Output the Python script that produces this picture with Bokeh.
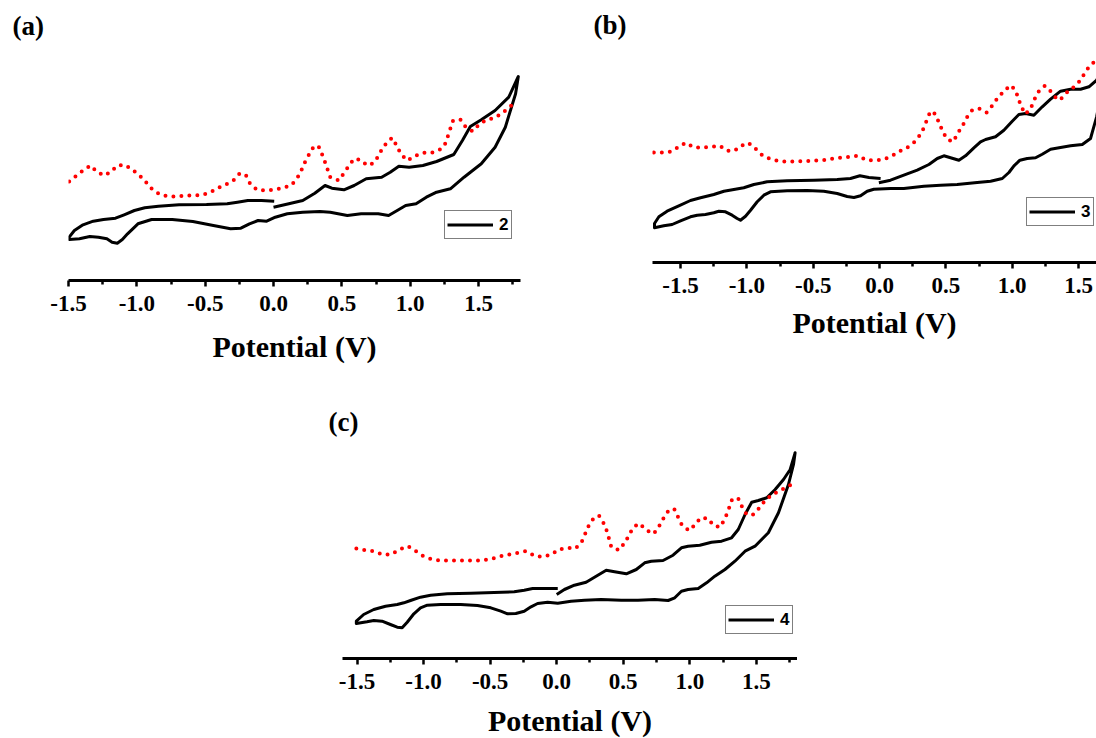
from bokeh.plotting import figure
from bokeh.layouts import column, row
from bokeh.models import (FixedTicker, Legend, LegendItem, Range1d,
                          CustomJSTickFormatter)
from bokeh.embed import file_html
from bokeh.resources import INLINE

# ---------------- data (potential in V, current in arbitrary units) ----------------
tick_values = [-1.5, -1.0, -0.5, 0.0, 0.5, 1.0, 1.5]
tick_labels = ["-1.5", "-1.0", "-0.5", "0.0", "0.5", "1.0", "1.5"]
minor_values = [-1.75, -1.25, -0.75, -0.25, 0.25, 0.75, 1.25, 1.75]
axis_title = "Potential (V)"
panel_tags = ["(a)", "(b)", "(c)"]
series_names = ["2", "3", "4"]

# (a) compound 2 : cyclic voltammogram
a_cv_v = [0.000, 0.088, 0.214, 0.302, 0.377, 0.427, 0.515, 0.590, 0.678, 0.791,
          0.854, 0.917, 0.992, 1.093, 1.193, 1.319, 1.382, 1.440, 1.520, 1.621,
          1.721, 1.791, 1.771, 1.696, 1.621, 1.520, 1.394, 1.294, 1.193, 1.118,
          1.043, 0.967, 0.905, 0.842, 0.766, 0.641, 0.540, 0.415, 0.339, 0.214,
          0.101, 0.013, -0.050, -0.113, -0.176, -0.239, -0.314, -0.440, -0.590, -0.741,
          -0.892, -0.992, -1.068, -1.106, -1.143, -1.181, -1.219, -1.281, -1.344, -1.420,
          -1.495, -1.495, -1.457, -1.394, -1.319, -1.244, -1.156, -1.093, -1.018, -0.942,
          -0.842, -0.691, -0.490, -0.339, -0.264, -0.188, -0.088, 0.005]
a_cv_i = [7.33, 7.60, 8.00, 8.73, 9.50, 9.23, 9.07, 9.50, 10.17, 10.33,
          10.83, 11.43, 11.33, 11.50, 11.90, 12.60, 14.00, 15.40, 16.07, 17.00,
          18.33, 20.40, 18.67, 15.33, 13.33, 11.67, 10.33, 9.17, 8.83, 8.33,
          7.67, 7.50, 7.00, 6.50, 6.67, 6.67, 6.50, 6.83, 6.90, 6.83,
          6.67, 6.33, 5.93, 6.00, 5.67, 5.23, 5.17, 5.50, 5.90, 6.10,
          6.10, 5.67, 4.67, 4.10, 3.73, 3.83, 4.17, 4.33, 4.40, 4.17,
          4.10, 4.33, 5.00, 5.57, 5.93, 6.10, 6.23, 6.57, 7.00, 7.27,
          7.43, 7.57, 7.60, 7.67, 7.83, 8.00, 8.00, 7.93]
# (a) compound 2 : differential pulse voltammogram
a_dpv_v = [-1.495, -1.394, -1.339, -1.289, -1.236, -1.188, -1.143, -1.088, -1.035, -0.985,
           -0.937, -0.884, -0.829, -0.766, -0.704, -0.641, -0.578, -0.515, -0.460, -0.402,
           -0.339, -0.289, -0.246, -0.201, -0.171, -0.121, -0.058, 0.005, 0.068, 0.126,
           0.168, 0.201, 0.226, 0.256, 0.281, 0.327, 0.352, 0.377, 0.415, 0.477,
           0.515, 0.553, 0.590, 0.636, 0.686, 0.729, 0.771, 0.799, 0.867, 0.905,
           0.930, 0.980, 1.030, 1.093, 1.156, 1.219, 1.261, 1.281, 1.314, 1.369,
           1.407, 1.457, 1.508, 1.558, 1.621, 1.671, 1.734, 1.771]
a_dpv_i = [9.90, 11.00, 11.50, 10.83, 10.50, 10.90, 11.50, 11.57, 11.10, 10.57,
           9.90, 9.07, 8.60, 8.40, 8.40, 8.50, 8.50, 8.57, 8.83, 9.27,
           9.67, 10.07, 10.73, 10.50, 9.67, 9.07, 9.00, 9.07, 9.27, 9.50,
           10.10, 10.93, 11.73, 12.50, 13.17, 13.50, 12.73, 11.83, 10.33, 10.00,
           10.73, 11.50, 12.17, 12.07, 11.50, 11.73, 12.50, 13.33, 14.27, 13.40,
           12.67, 12.00, 12.43, 12.77, 12.77, 13.10, 13.77, 14.67, 16.00, 16.07,
           15.33, 14.93, 15.67, 16.07, 16.27, 16.73, 17.40, 18.07]

# (b) compound 3
b_cv_v = [-0.005, 0.083, 0.183, 0.284, 0.372, 0.435, 0.485, 0.535, 0.598, 0.648,
          0.711, 0.761, 0.799, 0.874, 0.937, 1.000, 1.050, 1.101, 1.163, 1.226,
          1.289, 1.364, 1.440, 1.515, 1.578, 1.636, 1.720, 1.636, 1.590, 1.528,
          1.440, 1.364, 1.289, 1.226, 1.176, 1.113, 1.058, 1.013, 0.975, 0.925,
          0.837, 0.736, 0.585, 0.460, 0.334, 0.183, 0.083, -0.043, -0.093, -0.143,
          -0.193, -0.244, -0.319, -0.420, -0.545, -0.696, -0.822, -0.872, -0.922, -0.972,
          -1.010, -1.048, -1.073, -1.111, -1.161, -1.211, -1.249, -1.312, -1.374, -1.425,
          -1.500, -1.563, -1.626, -1.696, -1.696, -1.663, -1.601, -1.513, -1.425, -1.349,
          -1.249, -1.173, -1.098, -1.023, -0.947, -0.847, -0.696, -0.495, -0.319, -0.219,
          -0.148, -0.080, 0.008]
b_cv_i = [7.97, 8.23, 8.73, 9.23, 9.80, 10.40, 10.67, 10.47, 10.23, 10.67,
          11.47, 12.07, 12.30, 12.57, 13.23, 14.13, 14.80, 14.90, 14.73, 15.57,
          16.33, 17.13, 17.33, 17.33, 17.57, 18.23, 20.50, 14.57, 12.40, 11.80,
          11.67, 11.50, 11.33, 10.83, 10.47, 10.40, 10.23, 9.67, 9.00, 8.40,
          8.13, 8.00, 7.80, 7.73, 7.63, 7.40, 7.40, 7.33, 7.13, 6.67,
          6.50, 6.60, 6.90, 7.13, 7.20, 7.17, 7.07, 6.73, 6.07, 5.23,
          4.63, 4.23, 4.40, 4.73, 5.07, 5.13, 4.97, 4.80, 4.73, 4.57,
          4.17, 3.80, 3.67, 3.47, 3.90, 4.57, 5.13, 5.67, 6.20, 6.47,
          6.80, 7.13, 7.30, 7.47, 7.80, 8.07, 8.17, 8.23, 8.30, 8.40,
          8.67, 8.50, 8.40]
b_dpv_v = [-1.701, -1.638, -1.575, -1.520, -1.462, -1.399, -1.337, -1.269, -1.204, -1.148,
           -1.093, -1.043, -0.990, -0.942, -0.884, -0.822, -0.754, -0.691, -0.626, -0.558,
           -0.495, -0.420, -0.352, -0.289, -0.224, -0.161, -0.098, -0.030, 0.033, 0.095,
           0.158, 0.209, 0.259, 0.304, 0.334, 0.359, 0.384, 0.422, 0.447, 0.480,
           0.510, 0.555, 0.593, 0.628, 0.661, 0.698, 0.749, 0.807, 0.849, 0.887,
           0.937, 0.987, 1.025, 1.050, 1.075, 1.101, 1.143, 1.168, 1.201, 1.246,
           1.289, 1.322, 1.359, 1.402, 1.457, 1.508, 1.545, 1.578, 1.623]
b_dpv_i = [11.00, 11.00, 11.07, 11.50, 11.97, 11.50, 11.50, 11.57, 11.67, 11.17,
           11.17, 11.67, 11.97, 11.47, 10.73, 10.33, 10.13, 10.07, 10.13, 10.13,
           10.20, 10.23, 10.40, 10.50, 10.57, 10.67, 10.23, 10.23, 10.30, 10.67,
           11.17, 11.50, 12.00, 12.73, 13.47, 14.33, 15.13, 14.83, 14.00, 13.00,
           12.33, 12.07, 13.00, 13.73, 14.57, 15.23, 15.40, 15.00, 15.67, 16.40,
           17.13, 17.73, 17.23, 16.23, 15.40, 14.83, 15.53, 16.33, 17.13, 17.67,
           17.13, 16.57, 16.23, 16.90, 17.47, 18.13, 18.90, 19.57, 20.13]

# (c) compound 4
c_cv_v = [0.000, 0.058, 0.133, 0.221, 0.309, 0.372, 0.435, 0.523, 0.598, 0.661,
          0.711, 0.799, 0.874, 0.937, 0.987, 1.075, 1.163, 1.239, 1.314, 1.364,
          1.415, 1.465, 1.515, 1.578, 1.641, 1.704, 1.754, 1.791, 1.779, 1.741,
          1.666, 1.590, 1.490, 1.415, 1.339, 1.264, 1.188, 1.126, 1.063, 0.987,
          0.937, 0.887, 0.837, 0.736, 0.611, 0.485, 0.334, 0.209, 0.108, 0.008,
          -0.068, -0.143, -0.193, -0.244, -0.307, -0.369, -0.420, -0.495, -0.595, -0.721,
          -0.872, -0.972, -1.023, -1.073, -1.123, -1.161, -1.198, -1.249, -1.312, -1.374,
          -1.425, -1.505, -1.505, -1.450, -1.374, -1.286, -1.198, -1.148, -1.098, -1.023,
          -0.947, -0.822, -0.646, -0.470, -0.319, -0.244, -0.181, -0.093, 0.008]
c_cv_i = [6.40, 6.90, 7.33, 7.63, 8.33, 8.83, 8.67, 8.47, 8.90, 9.57,
          9.73, 9.80, 10.33, 11.07, 11.23, 11.33, 11.63, 11.73, 12.07, 12.90,
          14.40, 15.63, 15.80, 16.07, 16.90, 17.90, 18.90, 20.57, 19.40, 17.40,
          14.57, 12.57, 11.23, 10.73, 9.73, 8.90, 8.23, 7.57, 7.00, 6.90,
          6.73, 6.07, 5.80, 5.90, 5.83, 5.83, 5.90, 5.83, 5.73, 5.53,
          5.63, 5.50, 5.17, 4.73, 4.50, 4.47, 4.73, 5.07, 5.30, 5.40,
          5.40, 5.33, 5.07, 4.47, 3.63, 3.07, 3.13, 3.40, 3.73, 3.80,
          3.67, 3.50, 3.73, 4.40, 4.90, 5.23, 5.40, 5.57, 5.80, 6.13,
          6.33, 6.47, 6.53, 6.60, 6.67, 6.83, 7.00, 7.00, 7.00]
c_dpv_v = [-1.505, -1.437, -1.374, -1.307, -1.244, -1.181, -1.118, -1.068, -1.010, -0.947,
           -0.879, -0.814, -0.746, -0.678, -0.613, -0.545, -0.482, -0.420, -0.357, -0.294,
           -0.231, -0.163, -0.101, -0.038, 0.015, 0.083, 0.141, 0.188, 0.214, 0.239,
           0.271, 0.317, 0.354, 0.379, 0.410, 0.467, 0.515, 0.548, 0.578, 0.623,
           0.666, 0.729, 0.769, 0.804, 0.837, 0.882, 0.912, 0.942, 0.995, 1.045,
           1.080, 1.138, 1.176, 1.226, 1.264, 1.289, 1.319, 1.364, 1.394, 1.427,
           1.477, 1.528, 1.565, 1.621, 1.678, 1.741, 1.791]
c_dpv_i = [11.00, 10.83, 10.73, 10.40, 10.40, 10.90, 11.23, 10.83, 10.30, 9.97,
           9.80, 9.80, 9.80, 9.80, 9.80, 9.83, 10.00, 10.23, 10.40, 10.57,
           10.73, 10.23, 10.17, 10.40, 10.90, 11.07, 11.00, 11.67, 12.47, 13.23,
           13.90, 14.30, 13.50, 12.67, 11.17, 10.83, 11.63, 12.47, 13.17, 13.50,
           12.90, 12.47, 13.23, 14.07, 14.73, 14.97, 14.13, 13.30, 12.80, 13.47,
           14.07, 14.00, 13.33, 13.13, 13.97, 14.83, 15.97, 16.00, 15.13, 14.40,
           14.40, 15.13, 15.80, 16.40, 16.80, 17.23, 17.63]

SERIF = "Liberation Serif"
SANS = "Liberation Sans"


def make_panel(cv_v, cv_i, dpv_v, dpv_i, name, tag, xr, yr, fw, fh,
               bl, br, bt, bb, leg_loc, tag_offset, tag_standoff, title_standoff):
    p = figure(frame_width=fw, frame_height=fh,
               x_range=Range1d(*xr), y_range=Range1d(*yr),
               min_border_left=bl, min_border_right=br,
               min_border_top=bt, min_border_bottom=bb,
               output_backend="svg", toolbar_location=None,
               y_axis_location=None, outline_line_color=None,
               background_fill_color="white", border_fill_color="white",
               title=tag, align="start")
    p.xgrid.visible = False
    p.ygrid.visible = False

    t = p.title
    t.align = "left"
    t.offset = tag_offset
    t.standoff = tag_standoff
    t.text_font = SERIF
    t.text_font_style = "bold"
    t.text_font_size = "27px"
    t.text_color = "black"

    ax = p.xaxis[0]
    ax.ticker = FixedTicker(ticks=tick_values, minor_ticks=minor_values)
    ax.formatter = CustomJSTickFormatter(
        args=dict(vals=tick_values, labs=tick_labels),
        code="const i = vals.findIndex(v => Math.abs(v - tick) < 1e-6); return i >= 0 ? labs[i] : '';")
    ax.axis_line_width = 3
    ax.axis_line_color = "black"
    ax.major_tick_line_width = 2.5
    ax.minor_tick_line_width = 2.5
    ax.major_tick_line_color = "black"
    ax.minor_tick_line_color = "black"
    ax.major_tick_in = 0
    ax.major_tick_out = 6
    ax.minor_tick_in = 0
    ax.minor_tick_out = 4
    ax.major_label_text_font = SERIF
    ax.major_label_text_font_style = "bold"
    ax.major_label_text_font_size = "23px"
    ax.major_label_text_color = "black"
    ax.major_label_standoff = 9
    ax.axis_label = axis_title
    ax.axis_label_text_font = SERIF
    ax.axis_label_text_font_style = "bold"
    ax.axis_label_text_font_size = "30px"
    ax.axis_label_text_color = "black"
    ax.axis_label_standoff = title_standoff

    cv = p.line(cv_v, cv_i, line_color="black", line_width=3, line_join="round")
    p.line(dpv_v, dpv_i, line_color="red", line_width=4, line_dash="0 8",
           line_cap="round")

    leg = Legend(items=[LegendItem(label=name, renderers=[cv])],
                 location=leg_loc, margin=0, padding=2, spacing=0,
                 glyph_width=46, glyph_height=23, label_standoff=6,
                 label_width=10, label_height=20,
                 label_text_font=SANS, label_text_font_style="bold",
                 label_text_font_size="17px", label_text_color="black",
                 border_line_color="black", border_line_width=1,
                 background_fill_color="white", background_fill_alpha=1)
    p.add_layout(leg)
    return p


# frames of the two top panels share the same top edge (y = 40 px)
pa = make_panel(a_cv_v, a_cv_i, a_dpv_v, a_dpv_i, series_names[0], panel_tags[0],
                (-1.5, 1.807), (0, 24), 452, 240, 68, 60, 40, 95,
                (376, 41), -56, 0, 16)
pb = make_panel(b_cv_v, b_cv_i, b_dpv_v, b_dpv_i, series_names[1], panel_tags[1],
                (-1.711, 1.635), (0, 22.2), 444, 222, 72, 0, 40, 113,
                (374, 36), -59, 2, 10)
pc = make_panel(c_cv_v, c_cv_i, c_dpv_v, c_dpv_i, series_names[2], panel_tags[2],
                (-1.609, 1.809), (0, 21.8), 455, 218, 342, 0, 65, 80,
                (383, 24), -14, 8, 12)

layout = column(row(pa, pb, align="start"), pc, align="start")
open("out.html", "w").write(file_html(layout, INLINE))
